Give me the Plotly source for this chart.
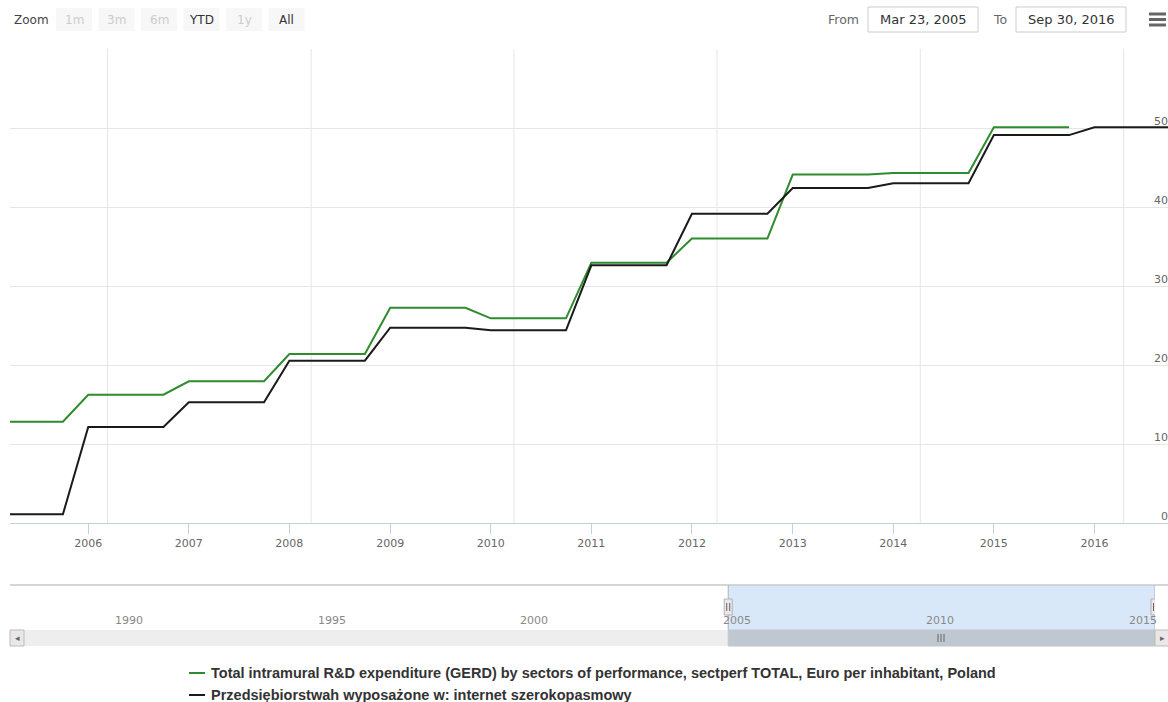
import plotly.graph_objects as go

W, H = 1168, 702

# ---- data -------------------------------------------------------------
gerd_years = [2005, 2006, 2007, 2008, 2009, 2010, 2011, 2012, 2013, 2014, 2015]
gerd_values = [12.82, 16.24, 17.94, 21.39, 27.25, 25.91, 32.95, 36.0, 44.1, 44.3, 50.1]

bb_years = [2005, 2006, 2007, 2008, 2009, 2010, 2011, 2012, 2013, 2014, 2015, 2016]
bb_values = [1.1, 12.15, 15.28, 20.54, 24.72, 24.39, 32.62, 39.15, 42.4, 43.0, 49.1, 50.1]

gerd_name = ("Total intramural R&D expenditure (GERD) by sectors of performance, "
             "sectperf TOTAL, Euro per inhabitant, Poland")
bb_name = "Przedsiębiorstwah wyposażone w: internet szerokopasmowy"

y_ticks = [0, 10, 20, 30, 40, 50, 60]
y_labels = ["0", "10", "20", "30", "40", "50"]
nav_years = [1990, 1995, 2000, 2005, 2010, 2015]
zoom_buttons = ["1m", "3m", "6m", "YTD", "1y", "All"]
zoom_enabled = [False, False, False, True, False, True]
range_from, range_to = "Mar 23, 2005", "Sep 30, 2016"

# annual values reported on every quarter start
quarter_starts = ["01-01", "04-01", "07-01", "10-01"]


def quarterly(years, values):
    xs, ys = [], []
    for yr, v in zip(years, values):
        for q in quarter_starts:
            xs.append(f"{yr}-{q}")
            ys.append(v)
    return xs, ys


gx, gy = quarterly(gerd_years, gerd_values)
bx, by = quarterly(bb_years, bb_values)

GREEN = "#2e8b2e"
BLACK = "#1a1a1a"
FONT = "DejaVu Sans"


def px(x):
    return x / W


def py(y):
    return 1 - y / H


fig = go.Figure()
fig.add_trace(go.Scatter(x=gx, y=gy, mode="lines", name=gerd_name,
                         line=dict(color=GREEN, width=2), xaxis="x", yaxis="y"))
fig.add_trace(go.Scatter(x=bx, y=by, mode="lines", name=bb_name,
                         line=dict(color=BLACK, width=2), xaxis="x", yaxis="y"))
# invisible trace keeps the navigator axes alive
fig.add_trace(go.Scatter(x=gx, y=gy, mode="lines", line=dict(width=0),
                         hoverinfo="skip", xaxis="x2", yaxis="y2", opacity=0))

shapes = []
annotations = []

# vertical grid lines of the main plot
vgrid_dates = ["2006-03-12", "2008-03-20", "2010-03-26", "2012-04-01", "2014-04-09", "2016-04-16"]
for d in vgrid_dates:
    shapes.append(dict(type="line", xref="x", yref="paper", x0=d, x1=d,
                       y0=py(523), y1=py(49), line=dict(color="#e6e6e6", width=1),
                       layer="below"))

# y labels, drawn inside the right edge above each grid line
for v, t in zip(y_ticks, y_labels):
    annotations.append(dict(text=t, xref="paper", yref="y", x=px(1170), y=v,
                            xanchor="right", yanchor="middle", yshift=7,
                            showarrow=False, font=dict(family=FONT, size=11, color="#666666")))

# ---- range selector ---------------------------------------------------
annotations.append(dict(text="Zoom", xref="paper", yref="paper", x=px(12), y=py(20),
                        xanchor="left", yanchor="middle", showarrow=False,
                        font=dict(family=FONT, size=12, color="#444444")))
bx0 = 56
for label, en in zip(zoom_buttons, zoom_enabled):
    shapes.append(dict(type="rect", xref="paper", yref="paper", x0=px(bx0), x1=px(bx0 + 36),
                       y0=py(31), y1=py(8), fillcolor="#f7f7f7", line=dict(width=0)))
    annotations.append(dict(text=label, xref="paper", yref="paper", x=px(bx0 + 18), y=py(19.5),
                            xanchor="center", yanchor="middle", showarrow=False,
                            font=dict(family=FONT, size=12,
                                      color="#333333" if en else "#cccccc")))
    bx0 += 42.5

annotations.append(dict(text="From", xref="paper", yref="paper", x=px(861), y=py(19),
                        xanchor="right", yanchor="middle", showarrow=False,
                        font=dict(family=FONT, size=12.5, color="#666666")))
annotations.append(dict(text="To", xref="paper", yref="paper", x=px(1009), y=py(19),
                        xanchor="right", yanchor="middle", showarrow=False,
                        font=dict(family=FONT, size=12.5, color="#666666")))
for (l, r), txt in zip([(868, 978), (1016, 1126)], [range_from, range_to]):
    shapes.append(dict(type="rect", xref="paper", yref="paper", x0=px(l), x1=px(r),
                       y0=py(32), y1=py(7), fillcolor="white",
                       line=dict(color="#cccccc", width=1)))
    annotations.append(dict(text=txt, xref="paper", yref="paper", x=px((l + r) / 2), y=py(19.5),
                            xanchor="center", yanchor="middle", showarrow=False,
                            font=dict(family=FONT, size=13, color="#333333")))

# export menu icon
for yy in (14, 19.5, 25):
    shapes.append(dict(type="line", xref="paper", yref="paper", x0=px(1149), x1=px(1166),
                       y0=py(yy), y1=py(yy), line=dict(color="#666666", width=3)))

# ---- navigator ----------------------------------------------------------
NAV_TOP, NAV_BOT, SB_BOT = 585, 630, 646
shapes.append(dict(type="rect", xref="x2", yref="paper", x0="2005-03-23", x1="2015-10-01",
                   y0=py(NAV_BOT), y1=py(NAV_TOP), fillcolor="rgba(128,179,236,0.3)",
                   line=dict(width=0)))
shapes.append(dict(type="line", xref="paper", yref="paper", x0=px(10), x1=1,
                   y0=py(NAV_TOP), y1=py(NAV_TOP), line=dict(color="#c8c8c8", width=1.5)))
for d in ["2005-03-23", "2015-10-01"]:
    shapes.append(dict(type="line", xref="x2", yref="paper", x0=d, x1=d,
                       y0=py(SB_BOT), y1=py(NAV_TOP), line=dict(color="#b2b1b6", width=1)))

for yr in nav_years:
    annotations.append(dict(text=str(yr), xref="x2", yref="paper", x=f"{yr}-01-01", y=py(620),
                            xanchor="left", yanchor="middle", xshift=2, showarrow=False,
                            font=dict(family=FONT, size=11, color="#888888")))

# scrollbar
shapes.append(dict(type="rect", xref="paper", yref="paper", x0=px(10), x1=px(1172),
                   y0=py(SB_BOT), y1=py(NAV_BOT), fillcolor="#eeeeee", line=dict(width=0)))
shapes.append(dict(type="rect", xref="x2", yref="paper", x0="2005-03-23", x1="2015-10-01",
                   y0=py(SB_BOT), y1=py(NAV_BOT), fillcolor="#bfc8d1",
                   line=dict(color="#bfc8d1", width=1)))
for l in (10, 1155):
    shapes.append(dict(type="rect", xref="paper", yref="paper", x0=px(l), x1=px(l + 14),
                       y0=py(SB_BOT), y1=py(NAV_BOT), fillcolor="#ebe7e8",
                       line=dict(color="#bbbbbb", width=1)))
annotations.append(dict(text="◂", xref="paper", yref="paper", x=px(17), y=py(638),
                        xanchor="center", yanchor="middle", showarrow=False,
                        font=dict(family=FONT, size=9, color="#666666")))
annotations.append(dict(text="▸", xref="paper", yref="paper", x=px(1162), y=py(638),
                        xanchor="center", yanchor="middle", showarrow=False,
                        font=dict(family=FONT, size=9, color="#666666")))
for dx in (-3, 0, 3):
    shapes.append(dict(type="line", xref="paper", yref="paper", x0=px(941 + dx), x1=px(941 + dx),
                       y0=py(642), y1=py(634), line=dict(color="#666666", width=1)))

# navigator handles
for d in ["2005-03-23", "2015-10-01"]:
    shapes.append(dict(type="rect", xref="x2", yref="paper", xsizemode="pixel", xanchor=d,
                       x0=-4, x1=4, y0=py(615), y1=py(599), fillcolor="#ebe7e8",
                       line=dict(color="#b2b1b6", width=1)))
    for dx in (-1.5, 1.5):
        shapes.append(dict(type="line", xref="x2", yref="paper", xsizemode="pixel", xanchor=d,
                           x0=dx, x1=dx, y0=py(611), y1=py(603),
                           line=dict(color="#444444", width=0.8)))

# ---- legend -------------------------------------------------------------
for name, color, yy in [(gerd_name, GREEN, 673), (bb_name, BLACK, 695)]:
    shapes.append(dict(type="line", xref="paper", yref="paper", x0=px(189), x1=px(205),
                       y0=py(yy), y1=py(yy), line=dict(color=color, width=2)))
    annotations.append(dict(text=name, xref="paper", yref="paper", x=px(209), y=py(yy),
                            xanchor="left", yanchor="middle", showarrow=False,
                            font=dict(family="Liberation Sans", size=14.5, color="#333333",
                                      weight="bold")))

fig.update_layout(
    width=W, height=H,
    margin=dict(l=0, r=0, t=0, b=0),
    paper_bgcolor="white", plot_bgcolor="white",
    showlegend=False,
    font=dict(family=FONT, color="#666666"),
    xaxis=dict(domain=[px(10), 1], range=["2005-03-23", "2016-09-24"], type="date",
               tick0="2006-01-01", dtick="M12", tickformat="%Y",
               ticks="outside", ticklen=10, tickcolor="#c0d0e0",
               showline=True, linecolor="#c0d0e0", linewidth=1,
               showgrid=False, zeroline=False,
               tickfont=dict(family=FONT, size=11, color="#666666"), anchor="y"),
    yaxis=dict(domain=[py(523), py(49)], range=[0, 60], tickvals=y_ticks,
               showticklabels=False, showgrid=True, gridcolor="#e6e6e6", gridwidth=1,
               zeroline=False, showline=False, anchor="x"),
    xaxis2=dict(domain=[px(24), px(1155)], range=["1987-11-10", "2015-10-01"], type="date",
                showticklabels=False, showgrid=False, zeroline=False, showline=False,
                ticks="", anchor="y2"),
    yaxis2=dict(domain=[py(NAV_BOT), py(NAV_TOP)], range=[0, 60], visible=False, anchor="x2"),
    shapes=shapes,
    annotations=annotations,
)

fig.write_html("out.html", config={"displayModeBar": False})
